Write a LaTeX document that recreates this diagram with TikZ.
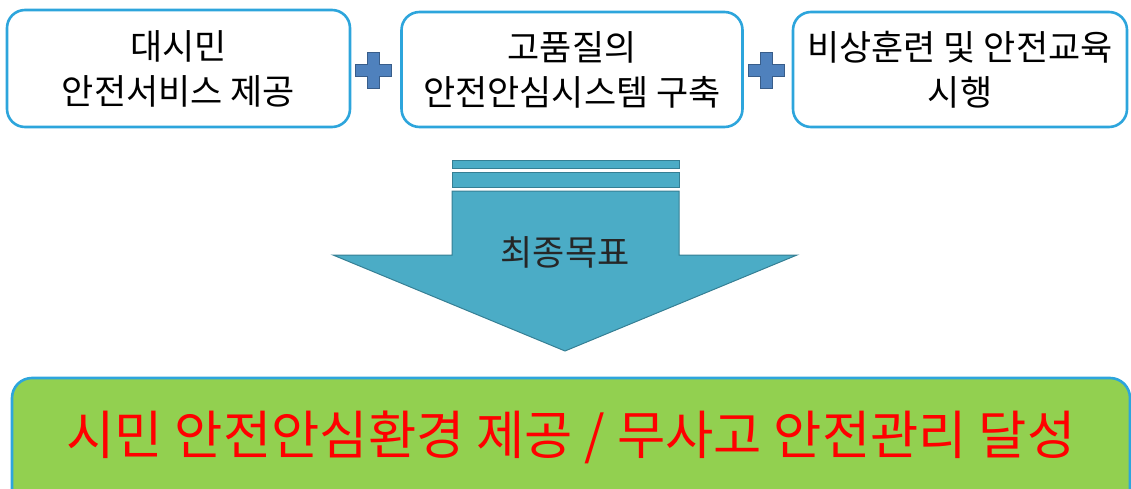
\documentclass[tikz,border=0pt]{standalone}
\usepackage{fontspec}
\setmainfont{Noto Sans CJK KR}
\definecolor{boxline}{HTML}{2DA5DC}
\definecolor{arrowfill}{HTML}{4BACC6}
\definecolor{arrowline}{HTML}{357F94}
\definecolor{plusfill}{HTML}{4F81BD}
\definecolor{plusline}{HTML}{385D8A}
\definecolor{goalfill}{HTML}{92D050}
\definecolor{goaltext}{HTML}{FF0000}
\begin{document}
\begin{tikzpicture}[x=1pt,y=-1pt,
  topbox/.style={draw=boxline, line width=2.6pt, fill=white, rounded corners=18pt, align=center,
    font=\fontsize{35}{45}\selectfont, inner sep=0pt},
  plussign/.style={fill=plusfill, draw=plusline, line width=1pt},
  arrowbody/.style={fill=arrowfill, draw=arrowline, line width=1pt},
  goalbox/.style={draw=boxline, line width=2.6pt, fill=goalfill, rounded corners=20pt, inner sep=0pt}]
\useasboundingbox (0,0) rectangle (1131,489);
\clip (0,0) rectangle (1131,489);
% top boxes
\node[topbox, minimum width=343pt, minimum height=117pt] (b1) at (178.5,68.5) {대시민\\안전서비스 제공};
\node[topbox, minimum width=341pt, minimum height=115pt] (b2) at (572,69.5) {고품질의\\안전안심시스템 구축};
\node[topbox, minimum width=334pt, minimum height=115pt] (b3) at (960,69.5) {비상훈련 및 안전교육\\시행};
% plus signs
\foreach \cx/\nm in {373/p1, 766/p2}{
  \draw[plussign] (\cx-6,53) -- (\cx+6,53) -- (\cx+6,65) -- (\cx+18,65) -- (\cx+18,77) -- (\cx+6,77)
     -- (\cx+6,89) -- (\cx-6,89) -- (\cx-6,77) -- (\cx-18,77) -- (\cx-18,65) -- (\cx-6,65) -- cycle;
  \coordinate (\nm) at (\cx,71);
}
% arrow
\draw[arrowbody] (452,161) rectangle (679,169);
\draw[arrowbody] (452,173) rectangle (679,187);
\draw[arrowbody] (452,191) -- (679,191) -- (679,255) -- (797,255) -- (565,351) -- (333,255) -- (452,255) -- cycle;
\node[font=\fontsize{35}{40}\selectfont, text=black!85] (goalhead) at (565,252) {최종목표};
% goal box
\node[goalbox, minimum width=1118pt, minimum height=150pt] (goal) at (571,453) {};
\node[font=\fontsize{52.5}{60}\selectfont, text=goaltext] (goaltxt) at (571,437) {시민 안전안심환경 제공 / 무사고 안전관리 달성};
\end{tikzpicture}
\end{document}
